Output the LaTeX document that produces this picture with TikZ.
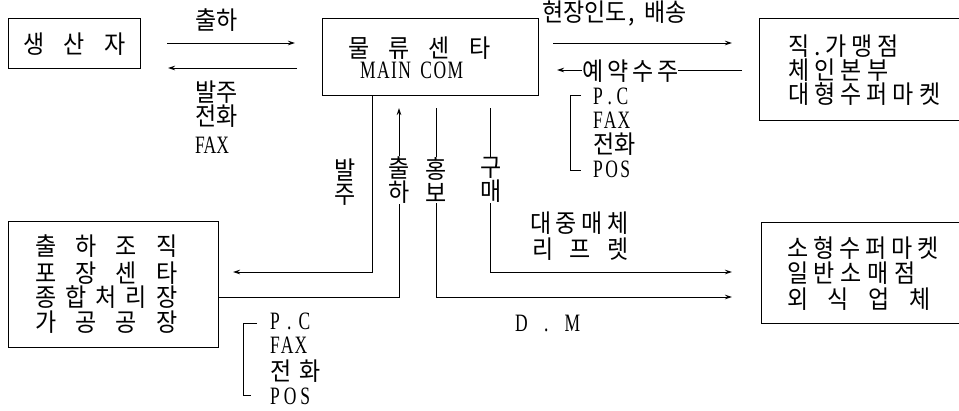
\documentclass[tikz,border=0pt]{standalone}
\usepackage{fontspec}
\setmainfont{Liberation Serif}
\newfontfamily\krf[FakeStretch=0.92]{Noto Sans CJK KR}
\newfontfamily\ltf[FakeStretch=0.7]{Liberation Serif}
\usetikzlibrary{arrows.meta}
\newcommand\fitto[2]{\makebox[#1][s]{#2}}
\tikzset{
  box/.style={draw, line width=1pt, inner sep=0pt, anchor=north west},
  kr/.style={font={\krf\fontsize{25}{24}\selectfont}, inner sep=0pt, anchor=west},
  lt/.style={font={\ltf\fontsize{25}{24}\selectfont}, inner sep=0pt, anchor=west},
  vl/.style={kr, anchor=center, align=center, fill=white, inner sep=0.5pt},
  ln/.style={line width=0.9pt},
  arr/.style={ln, -{Stealth[length=7pt,width=4.5pt]}},
}
\begin{document}
\begin{tikzpicture}[x=1pt,y=-1pt]
\useasboundingbox (0,0) rectangle (959,410);
\fill[white] (0,0) rectangle (959,410);
% boxes
\node[box, minimum width=132pt, minimum height=50pt] (p) at (8,18) {};
\node[box, minimum width=216pt, minimum height=77pt] (m) at (322,18) {};
\node[box, minimum width=206pt, minimum height=102pt] (r) at (759,18) {};
\node[box, minimum width=210pt, minimum height=126pt] (s) at (8,221) {};
\node[box, minimum width=204pt, minimum height=101pt] (q) at (761,222) {};
% free ends
\coordinate (a1) at (167,43);  \coordinate (a2) at (295,43);
\coordinate (a3) at (297,68);  \coordinate (a4) at (168,68);
\coordinate (a5) at (553,43);  \coordinate (a6) at (732,43);
\coordinate (a7) at (742,70);  \coordinate (a8) at (557,70);
\coordinate (c1) at (233,272);
\coordinate (c2) at (399,108);
\coordinate (c3) at (436,108); \coordinate (c4) at (732,297);
\coordinate (c5) at (490,108); \coordinate (c6) at (732,272);
% connectors
\draw[arr] (a1) -- (a2);
\draw[arr] (a3) -- (a4);
\draw[arr] (a5) -- (a6);
\draw[arr] (a7) -- (a8);
\draw[arr] ([xshift=50pt]m.south west) |- (c1);
\draw[arr] ([yshift=-13pt]s.east) -| (c2);
\draw[arr] (c3) |- (c4);
\draw[arr] (c5) |- (c6);
% brackets
\draw[ln] (581,95) -- (570,95) -- (570,170) -- (581,170);
\draw[ln] (257,323) -- (243,323) -- (243,395) -- (251,395);
% box texts
\node[kr] (tp) at (23,44) {\fitto{102pt}{생\hfil 산\hfil 자}};
\node[kr] (tm1) at (348,48) {\fitto{142pt}{물\hfil 류\hfil 센\hfil 타}};
\node[lt] (tm2) at (360,70) {\fitto{103pt}{M\hfil A\hfil I\hfil N\hspace{8pt}\hfil C\hfil O\hfil M}};
\node[kr] (tr1) at (788,46) {\fitto{110pt}{직\hfil .\hfil 가\hfil 맹\hfil 점}};
\node[kr] (tr2) at (788,70) {\fitto{100pt}{체\hfil 인\hfil 본\hfil 부}};
\node[kr] (tr3) at (788,94) {\fitto{152pt}{대\hfil 형\hfil 수\hfil 퍼\hfil 마\hfil 켓}};
\node[kr] (ts1) at (35,246) {\fitto{142pt}{출\hfil 하\hfil 조\hfil 직}};
\node[kr] (ts2) at (35,273) {\fitto{142pt}{포\hfil 장\hfil 센\hfil 타}};
\node[kr] (ts3) at (35,297) {\fitto{142pt}{종\hfil 합\hfil 처\hfil 리\hfil 장}};
\node[kr] (ts4) at (35,322) {\fitto{142pt}{가\hfil 공\hfil 공\hfil 장}};
\node[kr] (tq1) at (787,248) {\fitto{151pt}{소\hfil 형\hfil 수\hfil 퍼\hfil 마\hfil 켓}};
\node[kr] (tq2) at (787,273) {\fitto{128pt}{일\hfil 반\hfil 소\hfil 매\hfil 점}};
\node[kr] (tq3) at (787,299) {\fitto{143pt}{외\hfil 식\hfil 업\hfil 체}};
% labels
\node[kr] (l1) at (195,20) {출하};
\node[kr] (l2) at (195,92) {발주};
\node[kr] (l3) at (195,116) {전화};
\node[lt] (l4) at (195,145) {FAX};
\node[kr] (l5) at (542,14) {현장인도\hspace{2pt},\hspace{9pt}배송};
\node[kr, fill=white] (l6) at (582,71) {\fitto{96pt}{예\hfil 약\hfil 수\hfil 주}};
\node[lt] (l7) at (593,96) {\fitto{35pt}{P\hfil .\hfil C}};
\node[lt] (l8) at (593,120) {\fitto{37pt}{F\hfil A\hfil X}};
\node[kr] (l9) at (593,144) {전화};
\node[lt] (l10) at (593,169) {\fitto{37pt}{P\hfil O\hfil S}};
\node[vl] (v1) at (345,182) {발\\주};
\node[vl] (v2) at (399,180) {출\\하};
\node[vl] (v3) at (436,180) {홍\\보};
\node[vl] (v4) at (491,180) {구\\매};
\node[kr] (l11) at (530,223) {\fitto{98pt}{대\hfil 중\hfil 매\hfil 체}};
\node[kr] (l12) at (532,249) {\fitto{96pt}{리\hfil 프\hfil 렛}};
\node[lt] (l13) at (515,323) {\fitto{65pt}{D\hfil .\hfil M}};
\node[lt] (l14) at (270,321) {\fitto{40pt}{P\hfil .\hfil C}};
\node[lt] (l15) at (270,345) {\fitto{37pt}{F\hfil A\hfil X}};
\node[kr] (l16) at (270,371) {\fitto{50pt}{전\hfil 화}};
\node[lt] (l17) at (270,396) {\fitto{40pt}{P\hfil O\hfil S}};
\end{tikzpicture}
\end{document}
